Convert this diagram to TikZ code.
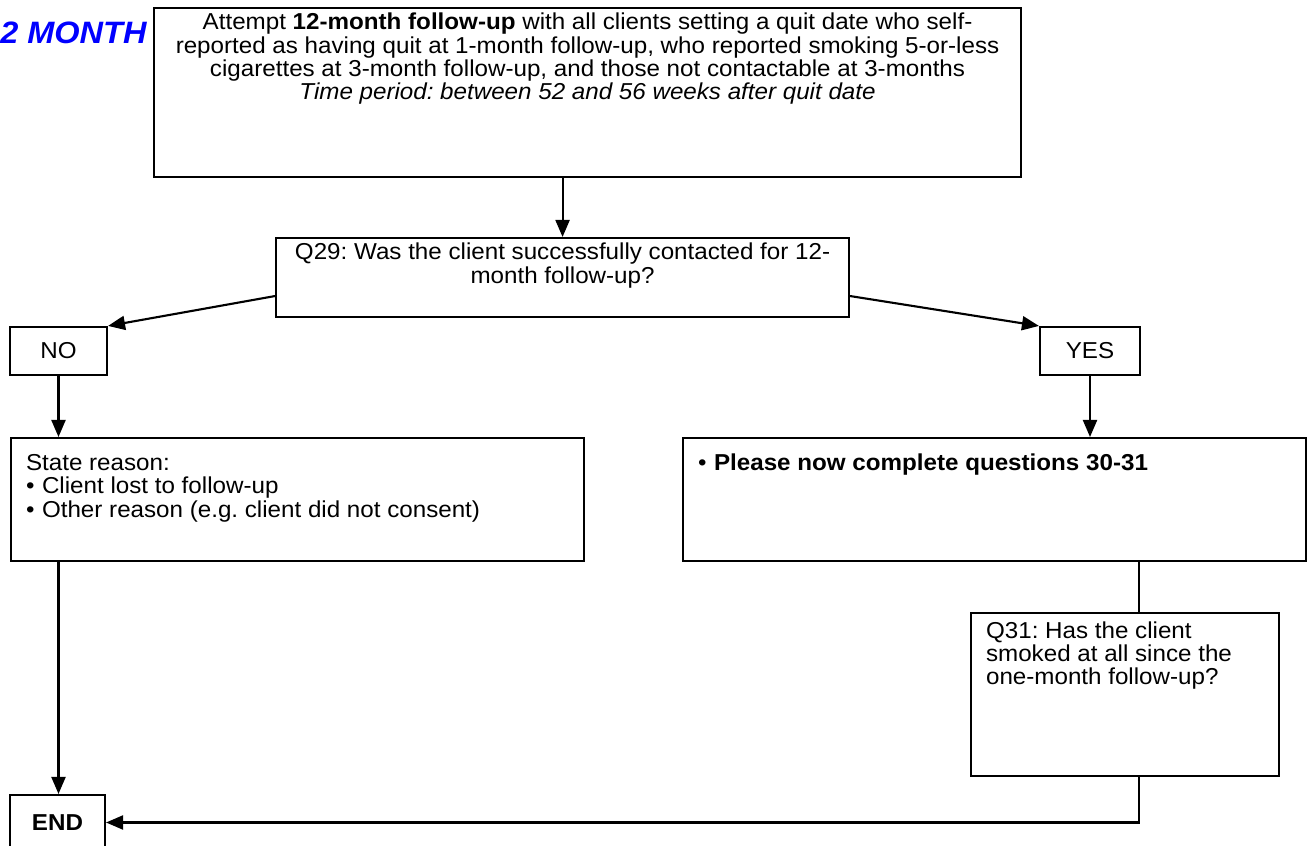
\documentclass[tikz,border=0pt]{standalone}
\usepackage{fontspec}
\setmainfont{Liberation Sans}[FakeStretch=1.05]
\usetikzlibrary{positioning,arrows.meta}
\definecolor{stageblue}{HTML}{0000FF}
\newcommand{\bitem}[1]{\makebox[0.32cm][l]{\textbullet}#1}
\newcommand{\boxtext}[3]{\parbox[t][#2][t]{#1}{#3}}
\frenchspacing

\begin{document}
\begin{tikzpicture}[font=\fontsize{13.1}{13.3}\selectfont,
  box/.style={draw,line width=1.2pt,inner xsep=0.3cm,inner ysep=0.1cm},
  qbox/.style={box,anchor=north west,align=left},
  ans/.style={draw,line width=1.2pt,minimum height=0.96cm,inner sep=0pt},
  stage/.style={font=\fontsize{17.6}{20}\selectfont\bfseries\itshape,text=stageblue,inner sep=0pt,anchor=west},
  wire/.style={-{Triangle[length=3.4mm,width=2.8mm]},line width=1.2pt},
  plain/.style={line width=1.2pt}]
\useasboundingbox (0,0) rectangle (26.3,16.92);
% stage label (left margin)
\node[stage] (month) at (0,16.26) {2 MONTH};
% attempt + question
\node[qbox] (att) at (3.06,16.78) {\boxtext{16.74cm}{3.18cm}{\centering
  Attempt \textbf{12-month follow-up} with all clients setting a quit date who self-\\
  reported as having quit at 1-month follow-up, who reported smoking 5-or-less\\
  cigarettes at 3-month follow-up, and those not contactable at 3-months\\
  \textit{Time period: between 52 and 56 weeks after quit date}}};
\node[qbox] (q29) at (5.50,12.18) {\boxtext{10.86cm}{1.38cm}{\centering
  Q29: Was the client successfully contacted for 12-\\month follow-up?}};
\draw[wire] (att.south -| q29.north) -- (q29.north);
% answers
\node[ans,minimum width=1.94cm] (no) at (1.17,9.90) {NO};
\node[ans,minimum width=2.0cm] (yes) at (21.80,9.90) {YES};
\draw[wire] ([yshift=-0.37cm]q29.west) -- (no.north east);
\draw[wire] ([yshift=-0.37cm]q29.east) -- (yes.north west);
% NO branch
\node[qbox] (reason) at (0.20,8.18) {\boxtext{10.86cm}{2.26cm}{\vspace*{0.23cm}State reason:\\
  \bitem{Client lost to follow-up}\\
  \bitem{Other reason (e.g. client did not consent)}}};
\draw[wire] (no.south) -- (no.south |- reason.north);
% YES branch
\node[qbox] (please) at (13.64,8.18) {\boxtext{11.86cm}{2.26cm}{\vspace*{0.21cm}\bitem{\textbf{Please now complete questions 30-31}}}};
\draw[wire] (yes.south) -- (yes.south |- please.north);
\node[qbox] (q31) at (19.40,4.68) {\boxtext{5.56cm}{3.06cm}{\vspace*{0.07cm}Q31: Has the client\\
  smoked at all since the\\one-month follow-up?}};
\draw[plain] ([xshift=0.28cm]q31.north) -- ([xshift=0.28cm]q31.north |- please.south);
% end
\node[ans,minimum width=1.9cm,minimum height=1.1cm,font=\fontsize{13.1}{13.3}\selectfont\bfseries] (endb) at (1.15,0.47) {END};
\draw[wire] (reason.south -| no.south) -- (no.south |- endb.north);
\draw[wire] ([xshift=0.28cm]q31.south) |- (endb.east);
\end{tikzpicture}
\end{document}
